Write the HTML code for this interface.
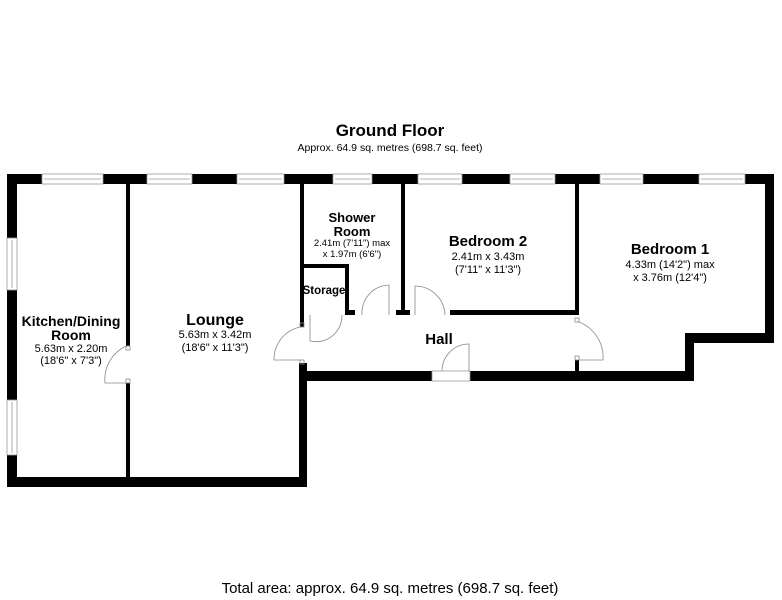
<!DOCTYPE html>
<html><head><style>body{margin:0;background:#fff}svg{display:block}</style></head><body>
<svg width="782" height="600" viewBox="0 0 782 600" xmlns="http://www.w3.org/2000/svg" font-family="Liberation Sans, Arial, sans-serif">
<rect width="782" height="600" fill="#fff"/>
<g fill="#000">
<!-- top wall -->
<rect x="7" y="174" width="766" height="10"/>
<!-- left wall -->
<rect x="7" y="174" width="10" height="313"/>
<!-- bottom of left section -->
<rect x="7" y="477" width="300" height="10"/>
<!-- lounge right wall lower -->
<rect x="299" y="363" width="8" height="124"/>
<!-- hall bottom wall -->
<rect x="299" y="371" width="391" height="10"/>
<!-- bedroom1 right -->
<rect x="765" y="174" width="9" height="169"/>
<rect x="685" y="333" width="89" height="10"/>
<rect x="685" y="333" width="9" height="48"/>
<!-- kitchen/lounge wall -->
<rect x="126" y="184" width="4" height="162"/>
<rect x="126" y="383" width="4" height="94"/>
<!-- lounge/shower wall -->
<rect x="300" y="184" width="4" height="143"/>
<!-- storage -->
<rect x="300" y="264" width="49" height="4"/>
<rect x="345" y="264" width="4" height="50"/>
<rect x="345" y="310" width="10" height="5"/>
<!-- shower/bed2 wall -->
<rect x="401" y="184" width="4" height="131"/>
<rect x="396" y="310" width="14" height="5"/>
<!-- bed2 bottom -->
<rect x="450" y="310" width="129" height="5"/>
<!-- bed2/bed1 wall -->
<rect x="575" y="184" width="4" height="131"/>
<rect x="575" y="360" width="4" height="12"/>
</g>
<!-- windows -->
<g fill="#fff" stroke="#999" stroke-width="0.8">
<rect x="42" y="174" width="61" height="10"/><line x1="44" y1="179" x2="101" y2="179"/>
<rect x="147" y="174" width="45" height="10"/><line x1="149" y1="179" x2="190" y2="179"/>
<rect x="237" y="174" width="47" height="10"/><line x1="239" y1="179" x2="282" y2="179"/>
<rect x="333" y="174" width="39" height="10"/><line x1="335" y1="179" x2="370" y2="179"/>
<rect x="418" y="174" width="44" height="10"/><line x1="420" y1="179" x2="460" y2="179"/>
<rect x="510" y="174" width="45" height="10"/><line x1="512" y1="179" x2="553" y2="179"/>
<rect x="600" y="174" width="43" height="10"/><line x1="602" y1="179" x2="641" y2="179"/>
<rect x="699" y="174" width="46" height="10"/><line x1="701" y1="179" x2="743" y2="179"/>
<rect x="7" y="238" width="10" height="52"/><line x1="12" y1="240" x2="12" y2="288"/>
<rect x="7" y="400" width="10" height="55"/><line x1="12" y1="402" x2="12" y2="453"/>
<rect x="432" y="371" width="38" height="10"/>
</g>
<!-- doors -->
<g fill="none" stroke="#888" stroke-width="0.8">
<path d="M126 383 L105 383 A37 37 0 0 1 126 346"/>
<path d="M300 360 L274 360 A33 33 0 0 1 300 327"/>
<path d="M310 315 L310 341 A26 26 0 0 0 342 315"/>
<path d="M389 315 L389 285 A28 28 0 0 0 362 315"/>
<path d="M415 315 L415 286 A30 30 0 0 1 445 315"/>
<path d="M579 322 A38 38 0 0 1 603 360 L579 360"/>
<path d="M469 371 L469 344 A27 27 0 0 0 442 371"/>
<rect x="126" y="346" width="4" height="4"/><rect x="126" y="379" width="4" height="4"/>
<rect x="300" y="323" width="4" height="4"/><rect x="300" y="360" width="4" height="4"/>
<rect x="575" y="318" width="4" height="4"/><rect x="575" y="356" width="4" height="4"/>
</g>
<!-- text -->
<g text-anchor="middle" fill="#000">
<text x="390" y="136" font-size="17" font-weight="bold">Ground Floor</text>
<text x="390" y="151" font-size="10.5">Approx. 64.9 sq. metres (698.7 sq. feet)</text>
<text x="71" y="326" font-size="14" font-weight="bold">Kitchen/Dining</text>
<text x="71" y="340" font-size="14" font-weight="bold">Room</text>
<text x="71" y="352" font-size="11">5.63m x 2.20m</text>
<text x="71" y="364" font-size="11">(18'6" x 7'3")</text>
<text x="215" y="325" font-size="16" font-weight="bold">Lounge</text>
<text x="215" y="338" font-size="11">5.63m x 3.42m</text>
<text x="215" y="351" font-size="11">(18'6" x 11'3")</text>
<text x="352" y="222" font-size="13" font-weight="bold">Shower</text>
<text x="352" y="236" font-size="13" font-weight="bold">Room</text>
<text x="352" y="246" font-size="9.5">2.41m (7'11") max</text>
<text x="352" y="257" font-size="9.5">x 1.97m (6'6")</text>
<text x="324" y="294" font-size="11.5" font-weight="bold">Storage</text>
<text x="488" y="246" font-size="15" font-weight="bold">Bedroom 2</text>
<text x="488" y="260" font-size="11">2.41m x 3.43m</text>
<text x="488" y="273" font-size="11">(7'11" x 11'3")</text>
<text x="670" y="254" font-size="15" font-weight="bold">Bedroom 1</text>
<text x="670" y="268" font-size="11">4.33m (14'2") max</text>
<text x="670" y="281" font-size="11">x 3.76m (12'4")</text>
<text x="439" y="344" font-size="15" font-weight="bold">Hall</text>
<text x="390" y="593" font-size="15">Total area: approx. 64.9 sq. metres (698.7 sq. feet)</text>
</g>
</svg>
</body></html>
